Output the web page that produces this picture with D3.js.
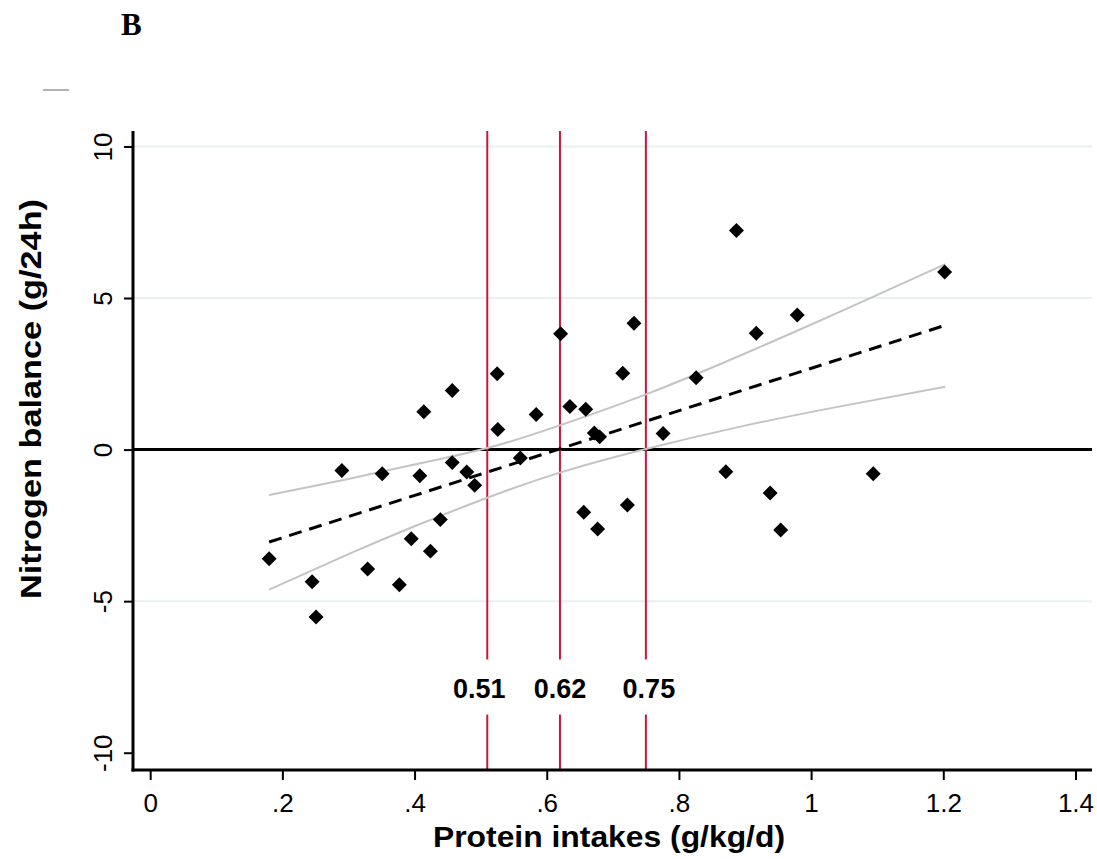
<!DOCTYPE html>
<html>
<head>
<meta charset="utf-8">
<script src="https://cdn.jsdelivr.net/npm/d3@7"></script>
<style>
    body { margin: 0; background: #fff; }
    svg { display: block; }
    .tick-label { font-family: "Liberation Sans", Arial, sans-serif; font-size: 26px; fill: #000; }
    .axis-title { font-family: "Liberation Sans", Arial, sans-serif; font-size: 29px; font-weight: bold; fill: #000; }
    .cut-label { font-family: "Liberation Sans", Arial, sans-serif; font-size: 27px; font-weight: bold; fill: #000; }
</style>
</head>
<body>
<svg id="chart" width="1097" height="859"></svg>
<script>
// protein intake (g/kg/d) and nitrogen balance (g/24h), one entry per patient
var intake = [
    0.180, 0.245, 0.251, 0.290, 0.329, 0.351, 0.377, 0.395, 0.408, 0.414,
    0.424, 0.439, 0.457, 0.457, 0.479, 0.491, 0.525, 0.526, 0.560, 0.584,
    0.621, 0.635, 0.656, 0.659, 0.672, 0.680, 0.677, 0.715, 0.722, 0.732,
    0.776, 0.826, 0.871, 0.887, 0.917, 0.938, 0.954, 0.979, 1.094, 1.202
];
var balance = [
    -3.60, -4.36, -5.52, -0.69, -3.94, -0.80, -4.46, -2.94, -0.86, 1.25,
    -3.35, -2.31, -0.43, 1.95, -0.74, -1.18, 2.50, 0.66, -0.28, 1.16,
    3.82, 1.42, -2.07, 1.33, 0.55, 0.42, -2.62, 2.52, -1.83, 4.17,
    0.53, 2.37, -0.73, 7.23, 3.84, -1.43, -2.65, 4.44, -0.80, 5.86
];

// fitted line and its confidence band
var fitX = [0.18, 1.203];
var fitY = [-3.05, 4.10];
var ciX = [0.18, 0.3, 0.4, 0.51, 0.62, 0.75, 0.9, 1.05, 1.203];
var ciUpper = [-1.50, -0.97, -0.49, 0.05, 0.80, 1.82, 3.17, 4.61, 6.12];
var ciLower = [-4.62, -3.45, -2.53, -1.59, -0.76, 0.02, 0.79, 1.45, 2.07];

// cut-off intakes
var cutoffs = [0.51, 0.62, 0.75];
var cutoffLabels = ['0.51', '0.62', '0.75'];
var cutoffLabelY = -7.85;

var xTicks = [0, 0.2, 0.4, 0.6, 0.8, 1, 1.2, 1.4];
var xTickLabels = ['0', '.2', '.4', '.6', '.8', '1', '1.2', '1.4'];
var yTicks = [-10, -5, 0, 5, 10];
var yTickLabels = ['-10', '-5', '0', '5', '10'];
var yGrid = [-5, 5, 10];

var plotLeft = 133, plotRight = 1092, plotTop = 131, plotBottom = 770;

var svg = d3.select('#chart');

var x = d3.scaleLinear()
    .domain([-0.026, 1.425])
    .range([plotLeft, plotRight]);

var y = d3.scaleLinear()
    .domain([-10.57, 10.51])
    .range([plotBottom, plotTop]);

// panel letter and the stray rule above the plot
svg.append('text')
    .attr('x', 121)
    .attr('y', 35)
    .style('font-family', '"Liberation Serif", "Times New Roman", serif')
    .style('font-size', '31px')
    .style('font-weight', 'bold')
    .text('B');

svg.append('line')
    .attr('x1', 43).attr('x2', 69)
    .attr('y1', 90).attr('y2', 90)
    .attr('stroke', '#9a9a9a')
    .attr('stroke-width', 1.5);

var plot = svg.append('g');

plot.selectAll('.grid')
    .data(yGrid)
    .enter().append('line')
    .attr('class', 'grid')
    .attr('x1', plotLeft).attr('x2', plotRight)
    .attr('y1', function(d) { return y(d); })
    .attr('y2', function(d) { return y(d); })
    .attr('stroke', '#e8f0f2')
    .attr('stroke-width', 2);

plot.append('line')
    .attr('x1', plotLeft).attr('x2', plotRight)
    .attr('y1', y(0)).attr('y2', y(0))
    .attr('stroke', '#000')
    .attr('stroke-width', 3);

// red cut-off lines, broken where their labels sit
var cuts = plot.selectAll('.cut')
    .data(cutoffs)
    .enter().append('g')
    .attr('class', 'cut');

cuts.append('line')
    .attr('x1', function(d) { return x(d); })
    .attr('x2', function(d) { return x(d); })
    .attr('y1', plotTop)
    .attr('y2', y(cutoffLabelY) - 28);

cuts.append('line')
    .attr('x1', function(d) { return x(d); })
    .attr('x2', function(d) { return x(d); })
    .attr('y1', y(cutoffLabelY) + 27)
    .attr('y2', plotBottom);

cuts.selectAll('line')
    .attr('stroke', '#c8173c')
    .attr('stroke-width', 2);

// the first label sits a little left of its line in the original
cuts.append('text')
    .attr('class', 'cut-label')
    .attr('x', function(d, i) { return x(d) + (i == 0 ? -8 : i == 2 ? 3 : 0); })
    .attr('y', y(cutoffLabelY) + 10)
    .attr('text-anchor', 'middle')
    .text(function(d, i) { return cutoffLabels[i]; });

var bandLine = d3.line()
    .x(function(d) { return x(d[0]); })
    .y(function(d) { return y(d[1]); })
    .curve(d3.curveNatural);

plot.append('path')
    .datum(d3.zip(ciX, ciUpper))
    .attr('d', bandLine)
    .attr('fill', 'none')
    .attr('stroke', '#c4c4c4')
    .attr('stroke-width', 2);

plot.append('path')
    .datum(d3.zip(ciX, ciLower))
    .attr('d', bandLine)
    .attr('fill', 'none')
    .attr('stroke', '#c4c4c4')
    .attr('stroke-width', 2);

plot.append('path')
    .datum(d3.zip(fitX, fitY))
    .attr('d', d3.line()
        .x(function(d) { return x(d[0]); })
        .y(function(d) { return y(d[1]); }))
    .attr('fill', 'none')
    .attr('stroke', '#000')
    .attr('stroke-width', 3)
    .attr('stroke-dasharray', '13,8');

// diamonds = squares turned 45 degrees
var diamond = d3.symbol().type(d3.symbolSquare).size(112);

plot.selectAll('.pt')
    .data(d3.zip(intake, balance))
    .enter().append('path')
    .attr('class', 'pt')
    .attr('d', diamond)
    .attr('transform', function(d) { return 'translate(' + x(d[0]) + ',' + y(d[1]) + ') rotate(45)'; })
    .attr('fill', '#000');

// axes
var xAxis = svg.append('g')
    .attr('transform', 'translate(0,' + plotBottom + ')')
    .call(d3.axisBottom(x)
        .tickValues(xTicks)
        .tickSize(10)
        .tickPadding(14)
        .tickFormat(function(d, i) { return xTickLabels[i]; }));

xAxis.select('.domain').remove();
xAxis.selectAll('.tick line').attr('stroke', '#000').attr('stroke-width', 2);
xAxis.selectAll('.tick text')
    .attr('class', 'tick-label')
    .attr('font-family', null)
    .attr('font-size', null);

xAxis.append('line')
    .attr('x1', plotLeft - 1.5).attr('x2', plotRight)
    .attr('stroke', '#000')
    .attr('stroke-width', 3);

var yAxis = svg.append('g')
    .attr('transform', 'translate(' + plotLeft + ',0)')
    .call(d3.axisLeft(y)
        .tickValues(yTicks)
        .tickSize(9)
        .tickFormat(function(d, i) { return yTickLabels[i]; }));

yAxis.select('.domain').remove();
yAxis.selectAll('.tick line').attr('stroke', '#000').attr('stroke-width', 2);
yAxis.selectAll('.tick text')
    .attr('class', 'tick-label')
    .attr('font-family', null)
    .attr('font-size', null)
    .attr('x', null)
    .attr('dy', null)
    .attr('text-anchor', 'middle')
    .attr('transform', 'translate(-21,0) rotate(-90)');

yAxis.append('line')
    .attr('y1', plotTop).attr('y2', plotBottom + 1.5)
    .attr('stroke', '#000')
    .attr('stroke-width', 3);

svg.append('text')
    .attr('class', 'axis-title')
    .attr('x', 609)
    .attr('y', 847)
    .attr('text-anchor', 'middle')
    .attr('textLength', 352)
    .attr('lengthAdjust', 'spacingAndGlyphs')
    .text('Protein intakes (g/kg/d)');

svg.append('text')
    .attr('class', 'axis-title')
    .attr('transform', 'translate(41,399) rotate(-90)')
    .attr('text-anchor', 'middle')
    .attr('textLength', 400)
    .attr('lengthAdjust', 'spacingAndGlyphs')
    .text('Nitrogen balance (g/24h)');
</script>
</body>
</html>
